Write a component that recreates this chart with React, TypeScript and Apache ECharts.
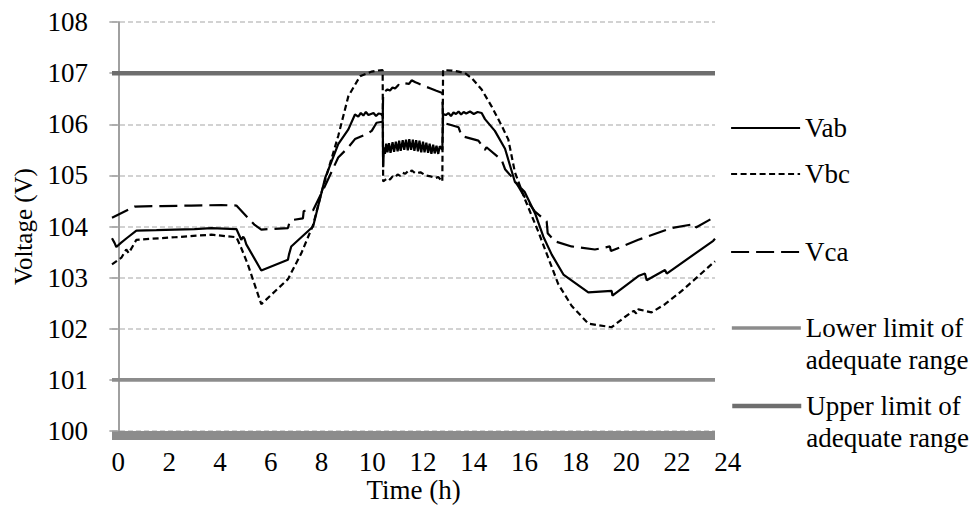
import React, { useEffect, useRef } from "react";
import * as echarts from "echarts";

// Line-to-line voltages over one day: [hour, volts]
const vab: [number, number][] = [
  [-0.25, 103.77], [-0.15, 103.68], [-0.08, 103.6], [0.1, 103.68], [0.35, 103.78], [0.71, 103.92],
  [1.5, 103.93], [2.22, 103.94], [3.0, 103.95], [3.66, 103.97], [4.65, 103.95], [4.84, 103.74],
  [4.92, 103.8], [4.97, 103.76], [5.04, 103.65], [5.63, 103.14], [6.68, 103.35], [6.72, 103.45],
  [6.81, 103.61], [7.67, 104.0], [8.14, 104.94], [8.66, 105.61], [9.06, 105.9], [9.32, 106.19],
  [9.45, 106.15], [9.55, 106.22], [9.65, 106.17], [9.75, 106.24], [9.85, 106.18], [9.95, 106.2],
  [10.05, 106.22], [10.15, 106.16], [10.25, 106.21], [10.35, 106.2], [10.41, 106.16], [10.43, 105.16],
  [10.46, 105.55], [10.5, 105.42], [10.55, 105.62], [10.6, 105.45], [10.66, 105.63], [10.72, 105.44],
  [10.8, 105.65], [10.86, 105.46], [10.93, 105.66], [11.0, 105.47], [11.06, 105.68], [11.12, 105.48],
  [11.2, 105.69], [11.26, 105.5], [11.33, 105.7], [11.4, 105.49], [11.46, 105.71], [11.53, 105.5],
  [11.6, 105.7], [11.66, 105.48], [11.73, 105.69], [11.8, 105.47], [11.86, 105.68], [11.93, 105.45],
  [12.0, 105.66], [12.06, 105.45], [12.13, 105.64], [12.2, 105.44], [12.26, 105.62], [12.33, 105.42],
  [12.4, 105.6], [12.46, 105.43], [12.53, 105.58], [12.6, 105.42], [12.66, 105.57], [12.76, 105.5],
  [12.79, 106.2], [12.9, 106.18], [13.0, 106.22], [13.1, 106.16], [13.2, 106.23], [13.3, 106.2],
  [13.4, 106.25], [13.5, 106.19], [13.6, 106.24], [13.7, 106.21], [13.85, 106.25], [14.0, 106.2],
  [14.15, 106.24], [14.31, 106.22], [14.44, 106.1], [14.83, 105.87], [15.23, 105.52], [15.62, 104.87],
  [16.0, 104.68], [16.41, 104.26], [16.74, 103.8], [17.07, 103.45], [17.53, 103.06], [18.51, 102.71],
  [19.43, 102.74], [19.46, 102.65], [20.48, 103.03], [20.74, 103.08], [20.81, 102.95], [21.53, 103.15],
  [21.6, 103.08], [23.43, 103.72], [23.5, 103.76],
];

const vbc: [number, number][] = [
  [-0.25, 103.26], [0.12, 103.39], [0.31, 103.55], [0.41, 103.48], [0.71, 103.74], [2.22, 103.79],
  [3.66, 103.84], [4.65, 103.79], [4.84, 103.58], [5.1, 103.26], [5.63, 102.48], [6.68, 102.97],
  [7.21, 103.48], [7.67, 104.03], [8.01, 104.68], [8.66, 105.77], [9.06, 106.55], [9.52, 106.94],
  [9.98, 107.03], [10.2, 107.05], [10.41, 107.06], [10.43, 104.88], [10.6, 104.95], [10.7, 104.92],
  [10.8, 104.98], [10.9, 104.96], [11.0, 105.02], [11.1, 104.99], [11.2, 105.05], [11.3, 105.03],
  [11.4, 105.08], [11.5, 105.06], [11.55, 105.1], [11.7, 105.04], [11.9, 105.06], [12.1, 105.0],
  [12.3, 104.98], [12.5, 104.95], [12.6, 104.97], [12.76, 104.88], [12.79, 107.06], [13.13, 107.05],
  [13.4, 107.03], [13.65, 107.0], [13.92, 106.9], [14.31, 106.68], [14.7, 106.35], [15.1, 105.97],
  [15.36, 105.7], [15.62, 105.06], [16.0, 104.55], [16.54, 103.9], [16.93, 103.39], [17.33, 102.87],
  [17.85, 102.45], [18.51, 102.1], [19.43, 102.03], [19.95, 102.23], [20.3, 102.35], [20.4, 102.3],
  [20.48, 102.38], [21.0, 102.32], [21.53, 102.48], [22.19, 102.74], [22.71, 102.97], [23.43, 103.29],
  [23.5, 103.32],
];

const vca: [number, number][] = [
  [-0.25, 104.17], [0.64, 104.39], [1.69, 104.4], [2.87, 104.41], [4.06, 104.42], [4.65, 104.41],
  [5.37, 104.03], [5.63, 103.94], [6.68, 103.97], [6.75, 104.1], [6.9, 104.13], [7.27, 104.16],
  [7.3, 104.3], [7.67, 104.32], [8.1, 104.75], [8.66, 105.35], [9.06, 105.55], [9.32, 105.71],
  [9.78, 105.81], [9.98, 105.87], [10.17, 106.03], [10.41, 106.05], [10.43, 106.62], [10.6, 106.68],
  [10.7, 106.66], [10.8, 106.72], [10.9, 106.7], [11.03, 106.77], [11.15, 106.75], [11.3, 106.8],
  [11.45, 106.79], [11.55, 106.86], [11.7, 106.82], [11.8, 106.8], [12.08, 106.74], [12.3, 106.7],
  [12.5, 106.66], [12.76, 106.61], [12.79, 106.02], [13.0, 106.0], [13.4, 105.94], [13.52, 105.77],
  [14.18, 105.68], [14.44, 105.5], [14.5, 105.55], [15.1, 105.3], [15.23, 105.12], [15.62, 104.9],
  [16.0, 104.58], [16.41, 104.29], [16.87, 104.1], [16.91, 103.87], [17.2, 103.71], [17.85, 103.61],
  [18.77, 103.55], [19.36, 103.61], [19.4, 103.52], [20.48, 103.74], [21.79, 103.97], [22.71, 104.05],
  [22.75, 103.98], [23.43, 104.17], [23.5, 104.2],
];

const lowerLimit = 101;
const upperLimit = 107;
const dayStart = -0.25;
const dayEnd = 23.5;

const FONT = "Liberation Serif";

export default function App() {
  const ref = useRef<HTMLDivElement>(null);

  useEffect(() => {
    if (!ref.current) return;
    const chart = echarts.init(ref.current, null, { renderer: "svg" });

    const txt = { fontFamily: FONT, fontSize: 27, color: "#000" };
    const legendBase = {
      orient: "vertical",
      left: 730,
      padding: 0,
      itemWidth: 69,
      itemHeight: 14,
      selectedMode: false,
      itemStyle: { opacity: 0 },
      textStyle: { ...txt, lineHeight: 32 },
    };

    chart.setOption({
      animation: false,
      backgroundColor: "#fff",
      grid: [
        { left: 112, top: 22, width: 603, height: 414.7 },
        { left: 118.35, top: 22, width: 609.4, height: 414.7 },
      ],
      xAxis: [
        {
          gridIndex: 0,
          type: "value",
          min: dayStart,
          max: dayEnd,
          offset: 4.5,
          axisLine: {
            show: true,
            lineStyle: { color: "#8c8c8c", width: 9, type: "solid", cap: "butt" },
          },
          axisTick: { show: false },
          axisLabel: { show: false },
          splitLine: { show: false },
          name: "Time (h)",
          nameLocation: "middle",
          nameGap: 44,
          nameTextStyle: { ...txt, lineHeight: 20 },
        },
        {
          gridIndex: 1,
          type: "value",
          min: 0,
          max: 24,
          interval: 2,
          axisLine: { show: false },
          axisTick: { show: false },
          splitLine: { show: false },
          axisLabel: { ...txt, lineHeight: 20, margin: 15 },
        },
      ],
      yAxis: [
        {
          gridIndex: 0,
          type: "value",
          min: 100,
          max: 108,
          interval: 1,
          axisLine: { show: true, lineStyle: { color: "#a0a0a0", width: 2 } },
          axisTick: { show: true, length: 9, lineStyle: { color: "#a0a0a0", width: 1.5 } },
          axisLabel: { ...txt, margin: 24 },
          splitLine: { lineStyle: { color: "#c4c4c4", width: 1.5, type: [5, 3] } },
          name: "Voltage (V)",
          nameLocation: "middle",
          nameRotate: 90,
          nameGap: 76,
          nameTextStyle: { ...txt, fontSize: 25 },
        },
        { gridIndex: 1, type: "value", min: 100, max: 108, show: false },
      ],
      legend: [
        { ...legendBase, top: 112, data: ["Vab"], lineStyle: { width: 2.2 } },
        { ...legendBase, top: 158, data: ["Vbc"], lineStyle: { width: 2.2 } },
        { ...legendBase, top: 236, data: ["Vca"], lineStyle: { width: 2.2 } },
        {
          ...legendBase,
          top: 280,
          data: ["Lower limit of adequate range"],
          lineStyle: { width: 3.7 },
          formatter: () => "\nLower limit of\nadequate range",
        },
        {
          ...legendBase,
          top: 358,
          data: ["Upper limit of adequate range"],
          lineStyle: { width: 4.5 },
          formatter: () => "\nUpper limit of\nadequate range",
        },
      ],
      series: [
        {
          name: "Lower limit of adequate range",
          type: "line",
          symbol: "none",
          data: [[dayStart, lowerLimit], [dayEnd, lowerLimit]],
          itemStyle: { color: "#8c8c8c" },
          lineStyle: { color: "#8c8c8c", width: 3.7 },
          z: 1,
        },
        {
          name: "Upper limit of adequate range",
          type: "line",
          symbol: "none",
          data: [[dayStart, upperLimit], [dayEnd, upperLimit]],
          itemStyle: { color: "#6e6e6e" },
          lineStyle: { color: "#6e6e6e", width: 4.5 },
          z: 1,
        },
        {
          name: "Vab",
          type: "line",
          symbol: "none",
          data: vab,
          itemStyle: { color: "#000" },
          lineStyle: { color: "#000", width: 2.2 },
          z: 4,
        },
        {
          name: "Vbc",
          type: "line",
          symbol: "none",
          data: vbc,
          itemStyle: { color: "#000" },
          lineStyle: { color: "#000", width: 2.2, type: [6, 3.5] },
          z: 3,
        },
        {
          name: "Vca",
          type: "line",
          symbol: "none",
          data: vca,
          itemStyle: { color: "#000" },
          lineStyle: { color: "#000", width: 2.2, type: [18, 7] },
          z: 3,
        },
      ],
    });

    return () => chart.dispose();
  }, []);

  return (
    <div
      ref={ref}
      style={{ position: "fixed", left: 0, top: 0, width: 976, height: 508 }}
    />
  );
}
